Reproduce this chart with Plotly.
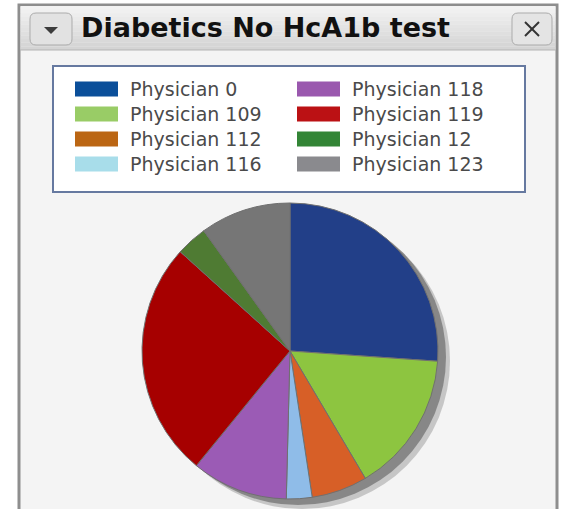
import plotly.graph_objects as go

# ---- data ----
labels = ["Physician 0", "Physician 109", "Physician 112", "Physician 116",
          "Physician 118", "Physician 119", "Physician 12", "Physician 123"]
values = [26.1, 15.4, 6.1, 2.8, 10.5, 25.8, 3.4, 9.9]
pie_colors = ["#223F88", "#8DC540", "#D75F27", "#8FBCE8",
              "#9B5BB5", "#A60000", "#4F7B33", "#767676"]
legend_colors = ["#0B4F9A", "#99CC66", "#BB6614", "#A8DDEA",
                 "#9A58AE", "#BB1114", "#338536", "#8A8A8E"]
title_text = "Diabetics No HcA1b test"

W, H = 561, 509


def X(p):
    return p / W


def Y(p):
    return 1 - p / H


def rrect(x0, y0, x1, y1, r):
    rx, ry = r / W, r / H
    a0, a1 = X(x0), X(x1)
    b0, b1 = Y(y0), Y(y1)  # b0 top (larger), b1 bottom
    return (f"M {a0+rx},{b0} L {a1-rx},{b0} Q {a1},{b0} {a1},{b0-ry} "
            f"L {a1},{b1+ry} Q {a1},{b1} {a1-rx},{b1} L {a0+rx},{b1} "
            f"Q {a0},{b1} {a0},{b1+ry} L {a0},{b0-ry} Q {a0},{b0} {a0+rx},{b0} Z")


shapes = []
annotations = []

# widget frame
shapes.append(dict(type="rect", xref="paper", yref="paper",
                   x0=X(19), x1=X(557), y0=Y(5), y1=Y(512),
                   fillcolor="#F4F4F4", line=dict(color="#8E8E8E", width=3), layer="below"))
# title bar gradient
tb_top, tb_bot = 6, 50
steps = 12
for i in range(steps):
    t = i / (steps - 1)
    c = int(0xF3 - t * (0xF3 - 0xD4))
    ya = tb_top + (tb_bot - tb_top) * i / steps
    yb = tb_top + (tb_bot - tb_top) * (i + 1) / steps
    shapes.append(dict(type="rect", xref="paper", yref="paper",
                       x0=X(20.5), x1=X(555.5), y0=Y(ya), y1=Y(yb),
                       fillcolor=f"rgb({c},{c},{c})", line=dict(width=0), layer="below"))
shapes.append(dict(type="line", xref="paper", yref="paper",
                   x0=X(20), x1=X(556), y0=Y(50), y1=Y(50),
                   line=dict(color="#B4B4B4", width=1)))

# dropdown button
shapes.append(dict(type="path", xref="paper", yref="paper",
                   path=rrect(30, 13, 72, 45, 6), fillcolor="#E2E2E2",
                   line=dict(color="#ABABAB", width=1)))
shapes.append(dict(type="path", xref="paper", yref="paper",
                   path=f"M {X(44)},{Y(27)} L {X(58)},{Y(27)} L {X(51)},{Y(34)} Z",
                   fillcolor="#3C3C3C", line=dict(width=0)))
# close button
shapes.append(dict(type="path", xref="paper", yref="paper",
                   path=rrect(512, 13, 552, 45, 6), fillcolor="#E4E4E4",
                   line=dict(color="#ABABAB", width=1)))
shapes.append(dict(type="line", xref="paper", yref="paper",
                   x0=X(525), x1=X(539), y0=Y(22), y1=Y(36),
                   line=dict(color="#333333", width=2)))
shapes.append(dict(type="line", xref="paper", yref="paper",
                   x0=X(539), x1=X(525), y0=Y(22), y1=Y(36),
                   line=dict(color="#333333", width=2)))

annotations.append(dict(text=title_text, xref="paper", yref="paper",
                        x=X(79), y=Y(27), xanchor="left", yanchor="middle",
                        showarrow=False,
                        font=dict(family="DejaVu Sans", size=27, color="#111111",
                                  weight="bold")))

# legend box
shapes.append(dict(type="rect", xref="paper", yref="paper",
                   x0=X(53), x1=X(525), y0=Y(66), y1=Y(192),
                   fillcolor="#FFFFFF", line=dict(color="#6679A0", width=2)))
sw_x = [75, 297]
tx_x = [128, 350]
for i, (lab, col) in enumerate(zip(labels, legend_colors)):
    c, r = i // 4, i % 4
    yc = 89 + 25 * r
    shapes.append(dict(type="rect", xref="paper", yref="paper",
                       x0=X(sw_x[c]), x1=X(sw_x[c] + 43), y0=Y(yc - 7.5), y1=Y(yc + 7.5),
                       fillcolor=col, line=dict(width=0)))
    annotations.append(dict(text=lab, xref="paper", yref="paper",
                            x=X(tx_x[c]), y=Y(yc), xanchor="left", yanchor="middle",
                            showarrow=False,
                            font=dict(family="DejaVu Sans", size=19, color="#4A4A4A")))

# pie geometry
cx, cy, rad = 290, 351, 148


def dom(dx=0, dy=0):
    return dict(x=[X(cx + dx - rad), X(cx + dx + rad)],
                y=[Y(cy + dy + rad), Y(cy + dy - rad)])


fig = go.Figure()
# shadow layers
for dx, dy, op in [(12, 10, 0.3), (8, 6, 0.6)]:
    fig.add_trace(go.Pie(values=[1], labels=["shadow"], domain=dom(dx, dy),
                         marker=dict(colors=["#5E5E5E"], line=dict(width=0)),
                         opacity=op, textinfo="none", hoverinfo="skip",
                         showlegend=False, sort=False))
fig.add_trace(go.Pie(values=values, labels=labels, domain=dom(),
                     marker=dict(colors=pie_colors, line=dict(color="#707070", width=1)),
                     sort=False, direction="clockwise", rotation=0,
                     textinfo="none", hoverinfo="label+percent", showlegend=False))

fig.update_layout(width=W, height=H, margin=dict(l=0, r=0, t=0, b=0),
                  paper_bgcolor="#FFFFFF", plot_bgcolor="#FFFFFF",
                  showlegend=False, shapes=shapes, annotations=annotations)

fig.write_html("out.html", config={"displayModeBar": False},
               post_script="document.body.style.margin='0';document.body.style.overflow='hidden';")
